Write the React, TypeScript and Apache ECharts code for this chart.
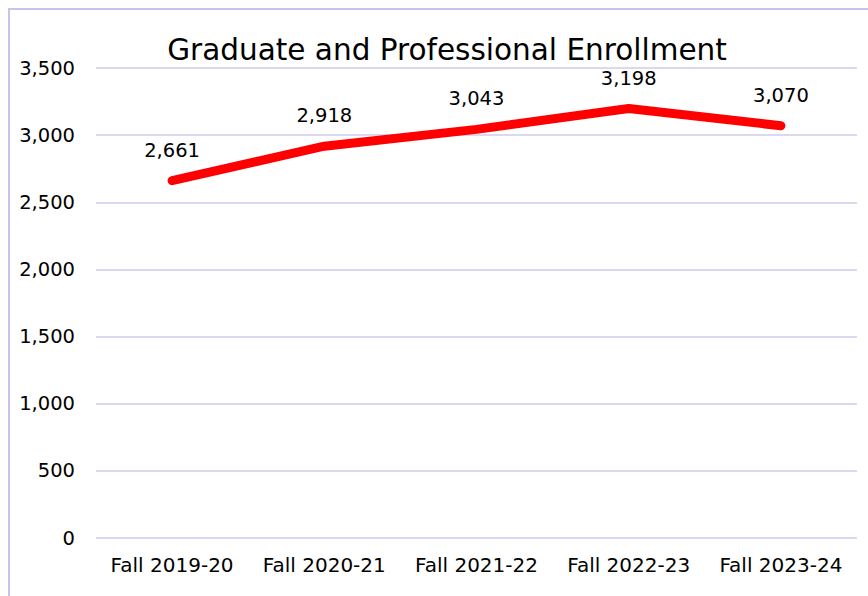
import React, { useEffect, useRef } from "react";
import * as echarts from "echarts";

const categories = ["Fall 2019-20", "Fall 2020-21", "Fall 2021-22", "Fall 2022-23", "Fall 2023-24"];
const enrollment = [2661, 2918, 3043, 3198, 3070];
const yTicks = { min: 0, max: 3500, interval: 500 };

const FONT = "DejaVu Sans";

export default function App() {
  const ref = useRef<HTMLDivElement>(null);
  useEffect(() => {
    document.body.style.margin = "0";
    const chart = echarts.init(ref.current!, null, { renderer: "svg" });
    chart.setOption({
      animation: false,
      backgroundColor: "#ffffff",
      textStyle: { fontFamily: FONT },
      title: {
        text: "Graduate and Professional Enrollment",
        left: 442,
        top: 30,
        textAlign: "center",
        textStyle: { fontFamily: FONT, fontSize: 29.5, fontWeight: "normal", color: "#000" },
      },
      graphic: [
        {
          type: "rect",
          shape: { x: 9, y: 9, width: 900, height: 650 },
          style: { fill: "none", stroke: "#c9c3ec", lineWidth: 2 },
          silent: true,
          z: -1,
        },
      ],
      grid: { left: 96, right: 11, top: 68, bottom: 58, containLabel: false },
      xAxis: {
        type: "category",
        data: categories,
        boundaryGap: true,
        axisLine: { show: false },
        axisTick: { show: false },
        axisLabel: { color: "#000", fontSize: 20, fontFamily: FONT, margin: 17, interval: 0 },
      },
      yAxis: {
        type: "value",
        min: yTicks.min,
        max: yTicks.max,
        interval: yTicks.interval,
        axisLine: { show: false },
        axisTick: { show: false },
        axisLabel: {
          color: "#000",
          fontSize: 19.5,
          fontFamily: FONT,
          margin: 21,
          formatter: (v: number) => v.toLocaleString("en-US"),
        },
        splitLine: { lineStyle: { color: "#d0cbee", width: 1.5 } },
      },
      series: [
        {
          type: "line",
          data: enrollment,
          symbol: "circle",
          symbolSize: 1,
          showSymbol: true,
          itemStyle: { color: "#ff0000" },
          lineStyle: { color: "#ff0000", width: 9, cap: "round", join: "round" },
          label: {
            show: true,
            position: "top",
            distance: 20,
            color: "#000",
            fontSize: 19.5,
            fontFamily: FONT,
            formatter: (p: any) => Number(p.value).toLocaleString("en-US"),
          },
        },
      ],
    });
    return () => chart.dispose();
  }, []);
  return <div ref={ref} style={{ width: 868, height: 596 }} />;
}
